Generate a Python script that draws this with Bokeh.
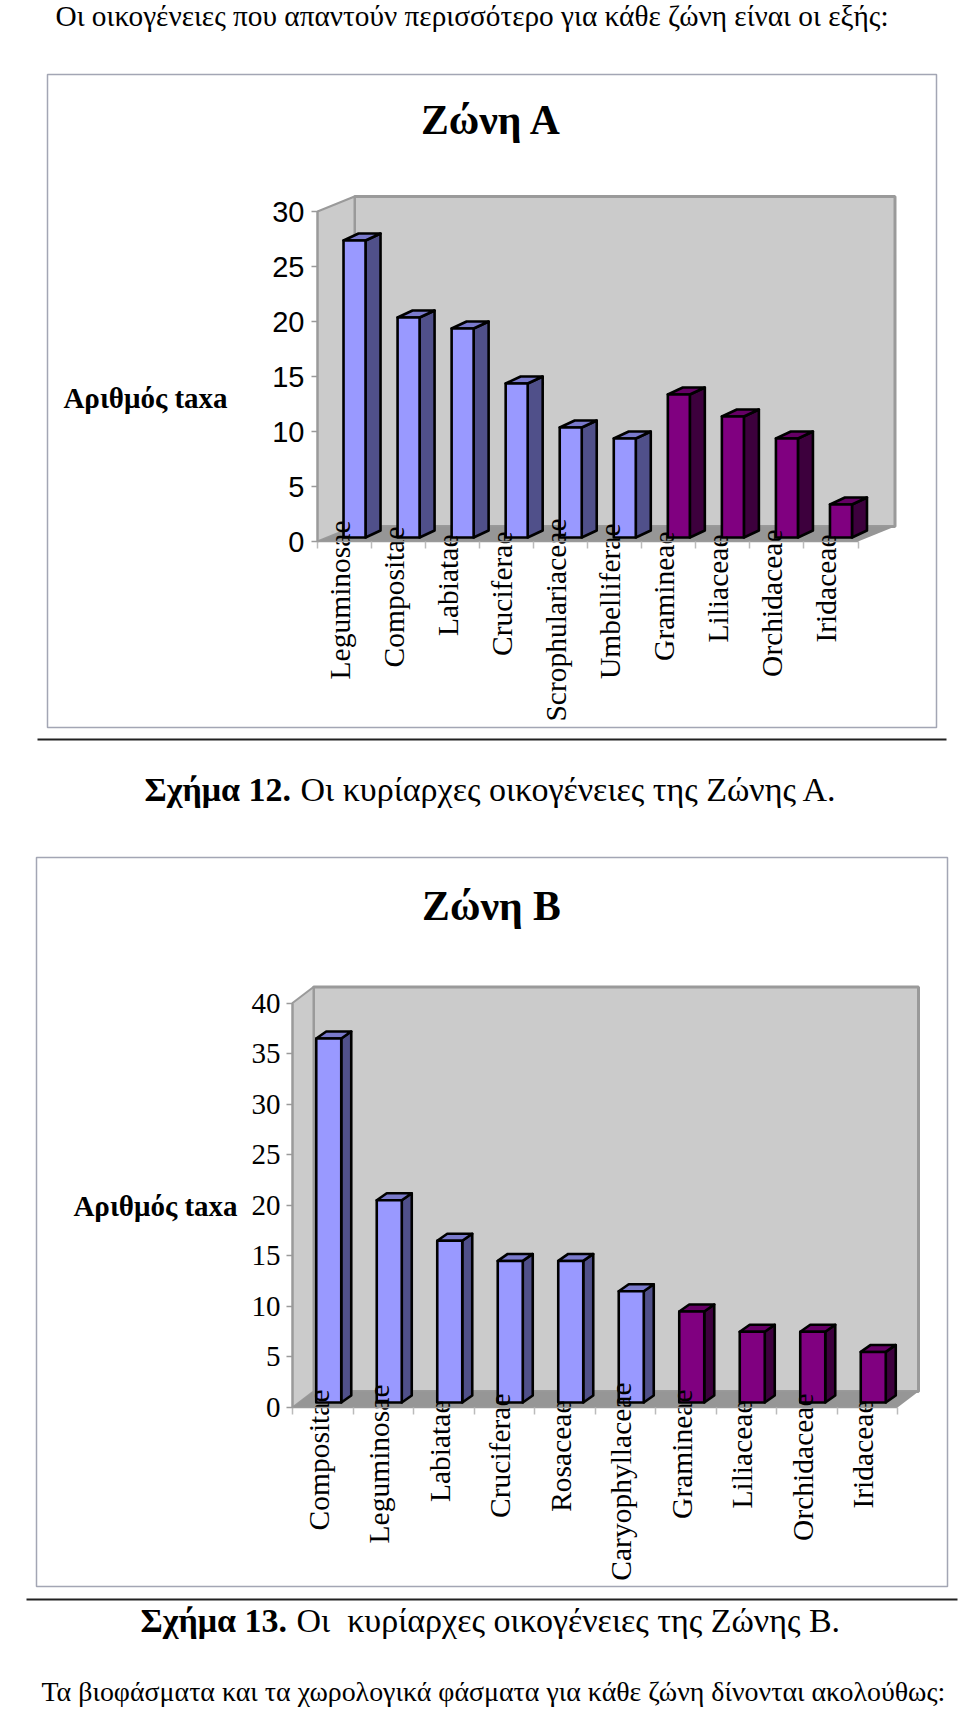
from math import pi
from bokeh.plotting import figure
from bokeh.models import Range1d, LinearAxis, FixedTicker
from bokeh.core.properties import value
from bokeh.embed import file_html
from bokeh.resources import INLINE

# ---- data ----
families_a = ["Leguminosae", "Compositae", "Labiatae", "Cruciferae", "Scrophulariaceae",
              "Umbelliferae", "Gramineae", "Liliaceae", "Orchidaceae", "Iridaceae"]
taxa_a = [27, 20, 19, 14, 10, 9, 13, 11, 9, 3]
ticks_a = [0, 5, 10, 15, 20, 25, 30]

families_b = ["Compositae", "Leguminosae", "Labiatae", "Cruciferae", "Rosaceae",
              "Caryophyllaceae", "Gramineae", "Liliaceae", "Orchidaceae", "Iridaceae"]
taxa_b = [36, 20, 16, 14, 14, 11, 9, 7, 7, 5]
ticks_b = [0, 5, 10, 15, 20, 25, 30, 35, 40]

# first six families of each chart are blue, the last four purple
n_blue = 6

# ---- layout (page pixels) ----
W, H = 960, 1709
OFF = 0
SERIF = "Liberation Serif"
SANS = "Liberation Sans"
BLUE = ("#9999FF", "#50508A", "#7A7ACC")
PURPLE = ("#800080", "#3D003D", "#660066")
WALL = "#CBCBCB"
FLOOR = "#969696"
EDGE = "#9A9A9A"

p = figure(width=W, height=H, output_backend="svg", toolbar_location=None,
           x_range=Range1d(0, W), y_range=Range1d(H, 0),
           x_axis_type=None, y_axis_type=None, min_border=0, outline_line_color=None)
p.grid.visible = False
p.background_fill_color = "white"


def X(v):
    return v - OFF


def Y(v):
    return v - OFF


def txt(x, y, s, size, bold=False, align="left", baseline="alphabetic"):
    p.text([X(x)], [Y(y)], text=[s], text_font=value(SERIF), text_font_size=f"{size}px",
           text_font_style="bold" if bold else "normal", text_align=align,
           text_baseline=baseline, text_color="#000000")


def chart(name, families, vals, ticks, g):
    xu = (g["right"] - g["left"]) / len(vals)
    yu = (g["zero"] - g["vtop"]) / ticks[-1]
    xname, yname = "x" + name, "y" + name
    p.extra_x_ranges[xname] = Range1d((0 - X(g["left"])) / xu, (W - X(g["left"])) / xu)
    p.extra_y_ranges[yname] = Range1d((Y(g["zero"]) - H) / yu, Y(g["zero"]) / yu)
    kw = dict(x_range_name=xname, y_range_name=yname)

    # panel frame
    bx = g["box"]
    p.quad(left=[X(bx[0])], right=[X(bx[1])], top=[Y(bx[2])], bottom=[Y(bx[3])],
           fill_color=None, line_color="#A3A6B4", line_width=1.5)

    n, top = len(vals), ticks[-1]
    dx, dy = g["wall_d"][0] / xu, g["wall_d"][1] / yu
    # back wall, side wall, floor
    p.patches([[dx, n + dx, n + dx, dx]], [[dy, dy, top + dy, top + dy]],
              fill_color=WALL, line_color=EDGE, line_width=g["wall_lw"], **kw)
    p.patches([[0, dx, dx, 0]], [[0, dy, top + dy, top]],
              fill_color=WALL, line_color=EDGE, line_width=2, **kw)
    p.patches([[0, n, n + dx, dx]], [[0, 0, dy, dy]],
              fill_color=FLOOR, line_color=None, **kw)

    # bars
    bw = g["bar_w"] / xu
    sx, sy = g["shift"][0] / xu, g["shift"][1] / yu
    ddx, ddy = g["bar_d"][0] / xu, g["bar_d"][1] / yu
    cols = [BLUE if i < n_blue else PURPLE for i in range(n)]
    lefts = [i + 0.5 + sx - bw / 2 for i in range(n)]
    rights = [l + bw for l in lefts]
    line = dict(line_color="#000000", line_width=2.6, line_join="round", **kw)
    p.patches([[r, r + ddx, r + ddx, r] for r in rights],
              [[sy, sy + ddy, v + sy + ddy, v + sy] for v in vals],
              fill_color=[c[1] for c in cols], **line)
    p.patches([[l, r, r + ddx, l + ddx] for l, r in zip(lefts, rights)],
              [[v + sy, v + sy, v + sy + ddy, v + sy + ddy] for v in vals],
              fill_color=[c[2] for c in cols], **line)
    p.quad(left=lefts, right=rights, top=[v + sy for v in vals], bottom=[sy] * n,
           fill_color=[c[0] for c in cols], **line)

    # axes, drawn in place at the front edge of the box
    ya = LinearAxis(fixed_location=0, bounds=(0, top), ticker=FixedTicker(ticks=ticks), **kw)
    ya.axis_line_color = EDGE
    ya.axis_line_width = 2
    ya.major_tick_line_color = EDGE
    ya.major_tick_line_width = 1.5
    ya.major_tick_in = 0
    ya.major_tick_out = 6
    ya.minor_tick_line_color = None
    ya.major_label_standoff = g["tick_standoff"]
    ya.major_label_text_font = g["tick_font"]
    ya.major_label_text_font_size = g["tick_size"]
    ya.major_label_text_color = "#000000"
    p.add_layout(ya, "left")

    xa = LinearAxis(fixed_location=0, bounds=(0, n), ticker=FixedTicker(ticks=list(range(n + 1))), **kw)
    xa.axis_line_color = EDGE
    xa.axis_line_width = 1.5
    xa.major_tick_line_color = "#BBBBBB"
    xa.major_tick_line_width = 1.5
    xa.major_tick_in = 0
    xa.major_tick_out = 7
    xa.minor_tick_line_color = None
    xa.major_label_overrides = {i: "" for i in range(n + 1)}
    p.add_layout(xa, "below")

    # family names, rotated
    p.text([i + 0.5 for i in range(n)], [Y(t) for t in g["label_tops"]], text=families,
           x_range_name=xname, angle=pi / 2, x_offset=g["label_dx"],
           text_font=value(SERIF), text_font_size="29.5px", text_align="right",
           text_baseline="alphabetic", text_color="#000000")


geom_a = dict(left=317, right=857.5, zero=541, vtop=211, box=(47, 936, 74, 727),
              wall_d=(37, 15), wall_lw=3, bar_w=22, shift=(10, 4), bar_d=(15, 7),
              tick_standoff=7, tick_font=SANS, tick_size="29px", label_dx=-5,
              label_tops=[520, 526, 534, 531, 518, 523, 531, 534, 529, 534])
geom_b = dict(left=292, right=897, zero=1407, vtop=1002.5, box=(36, 947, 857, 1586),
              wall_d=(21, 16), wall_lw=3, bar_w=25, shift=(6, 5), bar_d=(10, 7),
              tick_standoff=6, tick_font=SERIF, tick_size="29px", label_dx=-4,
              label_tops=[1389, 1384, 1400, 1393, 1400, 1382, 1389, 1400, 1393, 1400])

chart("A", families_a, taxa_a, ticks_a, geom_a)
chart("B", families_b, taxa_b, ticks_b, geom_b)

# titles and running text
txt(55, 15, "Οι οικογένειες που απαντούν περισσότερο για κάθε ζώνη είναι οι εξής:", 29.3)
txt(491, 119, "Ζώνη Α", 41.7, bold=True, align="center", baseline="middle")
txt(145, 397, "Αριθμός taxa", 29, bold=True, align="center", baseline="middle")
p.segment([X(37)], [Y(739)], [X(946)], [Y(739)], line_color="#222222", line_width=2)
txt(144, 789, "Σχήμα 12.", 34, bold=True)
txt(300, 789, "Οι κυρίαρχες οικογένειες της Ζώνης Α.", 34)

txt(491, 905, "Ζώνη Β", 41.7, bold=True, align="center", baseline="middle")
txt(155, 1205, "Αριθμός taxa", 29, bold=True, align="center", baseline="middle")
p.segment([X(26)], [Y(1599)], [X(957)], [Y(1599)], line_color="#222222", line_width=2)
txt(140, 1620, "Σχήμα 13.", 34, bold=True)
txt(296, 1620, "Οι\u00a0 κυρίαρχες οικογένειες της Ζώνης Β.", 34)
txt(41, 1691, "Τα βιοφάσματα και τα χωρολογικά φάσματα για κάθε ζώνη δίνονται ακολούθως:", 27.9)

open("out.html", "w").write(file_html(p, INLINE))
